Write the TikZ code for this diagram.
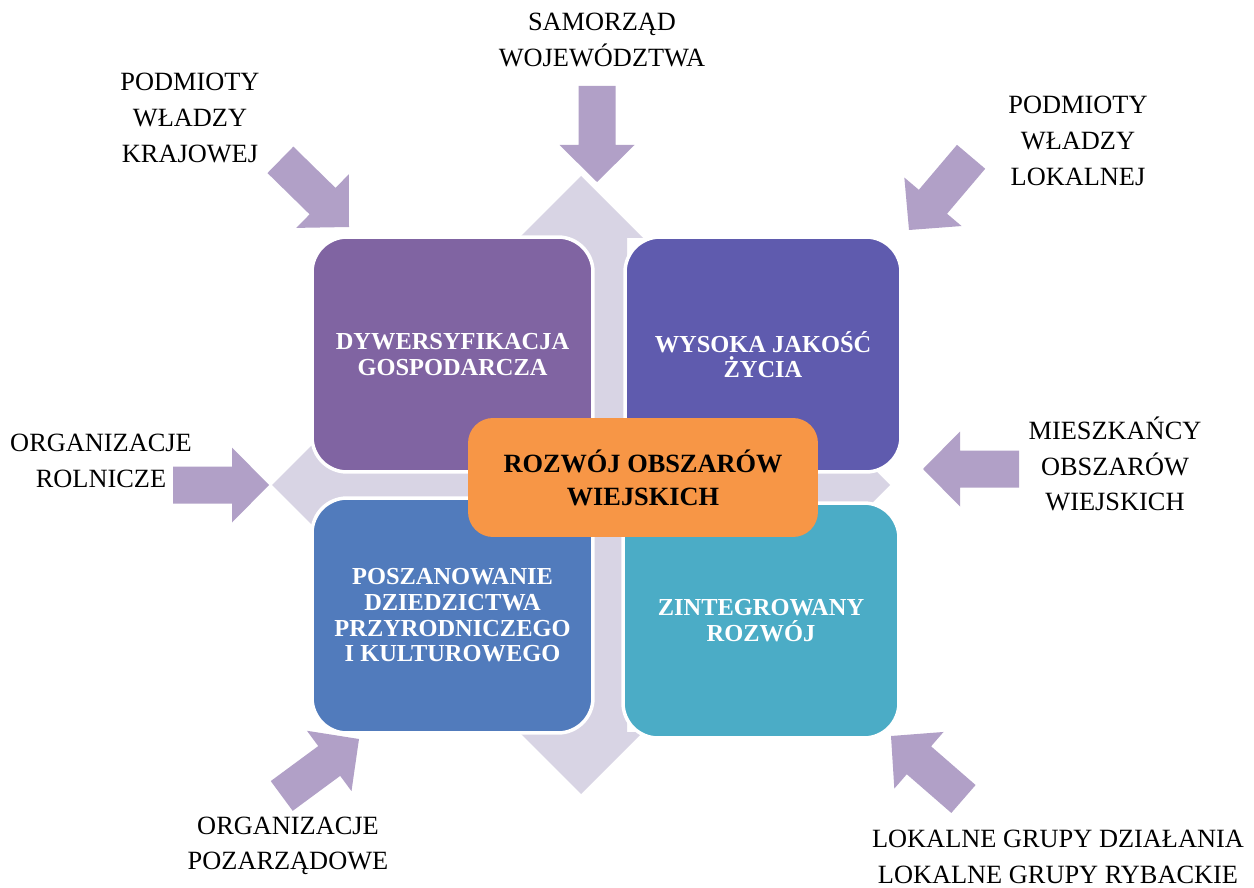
\documentclass[tikz,border=0pt]{standalone}
\usepackage{fontspec}
\setmainfont{Liberation Serif}
\definecolor{arrowc}{HTML}{B1A0C7}
\definecolor{crossc}{HTML}{D8D4E4}
\definecolor{tlc}{HTML}{8064A2}
\definecolor{trc}{HTML}{5F5BAE}
\definecolor{blc}{HTML}{517BBC}
\definecolor{brc}{HTML}{4BACC6}
\definecolor{orc}{HTML}{F79646}
\newcommand\blockarr[3]{\fill[arrowc,shift={(#1,#2)},rotate=#3] (0,0) -- (-37,37.5) -- (-37,18.5) -- (-96,18.5) -- (-96,-18.5) -- (-37,-18.5) -- (-37,-37.5) -- cycle;}
\begin{document}
\begin{tikzpicture}[x=0.02cm,y=-0.02cm,
  quad/.style={draw=white,line width=0.07cm,rounded corners=0.7cm,inner sep=0pt,
    align=center,text=white,font=\bfseries\fontsize{13.9}{14.6}\selectfont,
    minimum height=4.7cm},
  core/.style={fill=orc,rounded corners=0.5cm,inner sep=0pt,align=center,
    font=\bfseries\fontsize{15}{18.7}\selectfont,minimum width=7cm,minimum height=2.38cm},
  lab/.style={align=center,inner sep=0pt,font=\fontsize{15}{20.3}\selectfont}]
\useasboundingbox (0,0) rectangle (1254,888);
\fill[white] (0,0) rectangle (1254,888);
% cross
\coordinate (c) at (581,485);
\fill[crossc] (581,176) -- (643,238) -- (627,238) -- (627,441) -- (828,441) -- (828,423)
  -- (890,485) -- (828,547) -- (828,529) -- (627,529) -- (627,732) -- (643,732)
  -- (581,794) -- (519,732) -- (535,732) -- (535,529) -- (334,529) -- (334,547)
  -- (272,485) -- (334,423) -- (334,441) -- (535,441) -- (535,238) -- (519,238) -- cycle;
% quadrants
\node[quad,fill=tlc,minimum width=5.62cm] (tl) at (452.5,354.5) {DYWERSYFIKACJA\\GOSPODARCZA};
\node[quad,fill=trc,minimum width=5.52cm] (tr) at (763,354.5) {WYSOKA JAKOŚĆ\\ŻYCIA};
\node[quad,fill=blc,minimum width=5.62cm] (bl) at (452.5,615.5) {POSZANOWANIE\\DZIEDZICTWA\\PRZYRODNICZEGO\\I KULTUROWEGO};
\node[quad,fill=brc,minimum width=5.52cm] (br) at (761,620.5) {ZINTEGROWANY\\ROZWÓJ};
\node[core] (core) at (643,477.5) {ROZWÓJ OBSZARÓW\\WIEJSKICH};
% block arrows
\blockarr{349}{227}{-44.4}
\blockarr{597}{182}{-90}
\blockarr{909}{230}{-130.3}
\blockarr{923}{469}{180}
\blockarr{269}{485}{0}
\blockarr{359}{739}{36.4}
\blockarr{891}{736}{139}
% labels
\node[lab] (sw) at (602,40) {SAMORZĄD\\WOJEWÓDZTWA};
\node[lab] (pk) at (190,118) {PODMIOTY\\WŁADZY\\KRAJOWEJ};
\node[lab] (pl) at (1078,141) {PODMIOTY\\WŁADZY\\LOKALNEJ};
\node[lab] (or) at (101,461) {ORGANIZACJE\\ROLNICZE};
\node[lab] (mo) at (1115,464) {MIESZKAŃCY\\OBSZARÓW\\WIEJSKICH};
\node[lab] (op) at (288,846) {ORGANIZACJE\\POZARZĄDOWE};
\node[lab] (lg) at (1058,857) {LOKALNE GRUPY DZIAŁANIA\\LOKALNE GRUPY RYBACKIE};
\end{tikzpicture}
\end{document}
